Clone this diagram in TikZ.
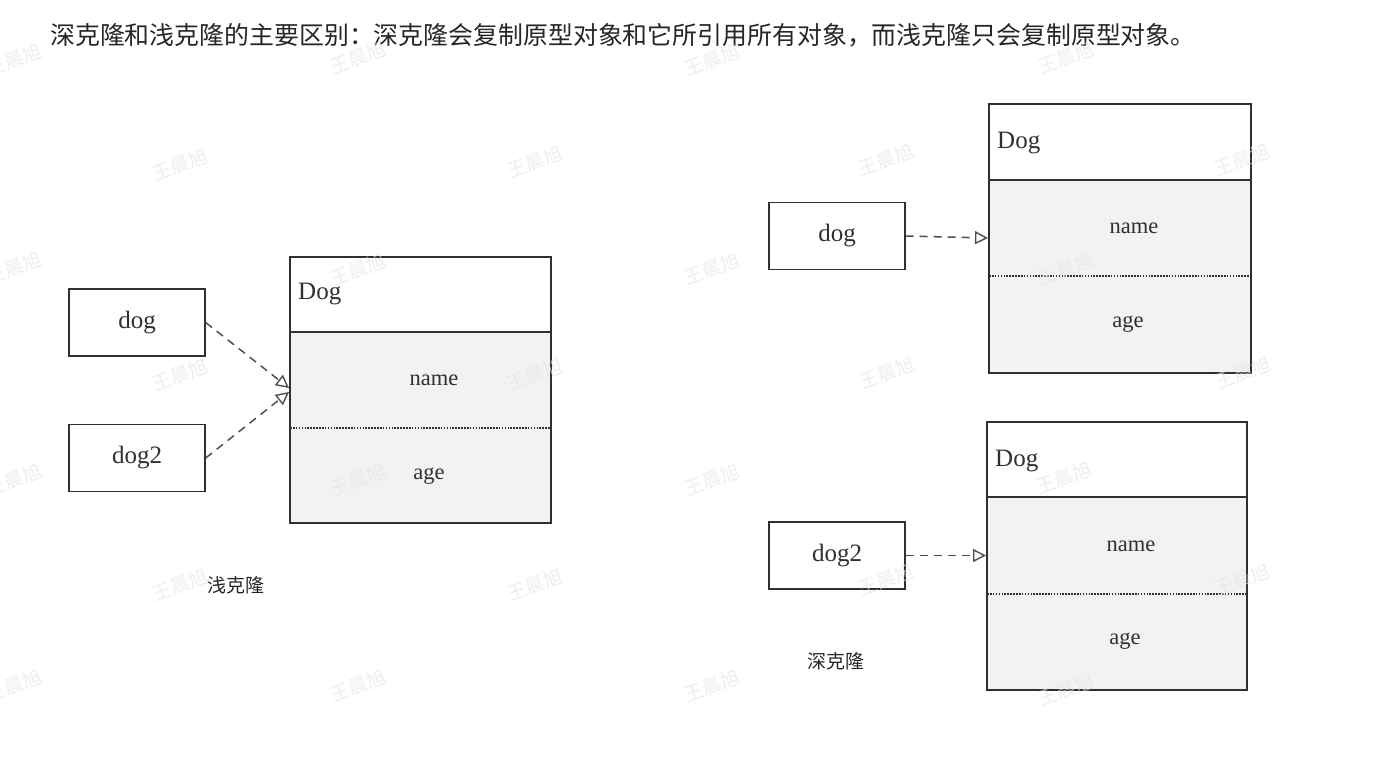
\documentclass[tikz,border=0pt]{standalone}
\usepackage{fontspec}
\setmainfont{Liberation Serif}
\newfontfamily\cjk{Noto Sans CJK SC}
\usetikzlibrary{arrows.meta}
\definecolor{ink}{HTML}{303030}
\definecolor{boxgray}{HTML}{F2F2F2}
\definecolor{wm}{HTML}{E4E4E4}
\tikzset{
  objbox/.style={draw=ink, line width=1.4pt, minimum width=136pt, minimum height=67pt, inner sep=0pt, font=\fontsize{25}{25}\selectfont, text=ink},
  outline/.style={draw=ink, line width=2pt},
  headsep/.style={draw=ink, line width=2.6pt, dash pattern=on 1.2pt off 0.8pt},
  headsolid/.style={draw=ink, line width=1.4pt},
  fieldsep/.style={draw=ink, line width=1.7pt, dash pattern=on 1.6pt off 1.3pt},
  fieldtxt/.style={font=\fontsize{22.5}{22.5}\selectfont, text=ink, inner sep=0pt},
  classtxt/.style={font=\fontsize{25}{25}\selectfont, text=ink, inner sep=0pt, anchor=west},
  ref/.style={draw=ink!85, line width=1.5pt, dash pattern=on 8pt off 6pt, -{Triangle[open, length=13pt, width=13pt, line width=1.4pt]}},
  captxt/.style={font=\cjk\fontsize{19}{19}\selectfont, text=black!85, inner sep=0pt},
  wmark/.style={font=\cjk\fontsize{19}{19}\selectfont, text=wm, rotate=20, inner sep=0pt}
}
\begin{document}
\begin{tikzpicture}[x=1pt,y=-1pt]
\useasboundingbox (0,0) rectangle (1387,763);
\fill[white] (0,0) rectangle (1387,763);

% title
\node[anchor=west, inner sep=0pt, font=\cjk\fontsize{24.9}{26}\selectfont, text=black!85] (title) at (50,35) {深克隆和浅克隆的主要区别：深克隆会复制原型对象和它所引用所有对象，而浅克隆只会复制原型对象。};

% ---------- shallow clone ----------
\fill[boxgray] (290,332) rectangle (551,523);
\draw[outline] (290,257) rectangle (551,523);
\draw[headsolid] (290,332) -- (551,332);
\draw[headsep] (290,332) -- (551,332);
\draw[fieldsep] (290,428) -- (551,428);
\draw[headsep] (290,523) -- (551,523);
\node[classtxt] (c1) at (298,294) {Dog};
\node[fieldtxt] (c1name) at (434,380) {name};
\node[fieldtxt] (c1age) at (429,476) {age};
\coordinate (t1a) at (289,388);
\coordinate (t1b) at (289,392);

\node[objbox] (dogA) at (137,322.5) {dog};
\node[objbox] (dog2A) at (137,458) {dog2};
\draw[ref] (dogA.east) -- (t1a);
\draw[ref] (dog2A.east) -- (t1b);
\node[captxt] (shallow) at (236,585) {浅克隆};

% ---------- deep clone, top ----------
\fill[boxgray] (989,180) rectangle (1251,373);
\draw[outline] (989,104) rectangle (1251,373);
\draw[headsolid] (989,180) -- (1251,180);
\draw[headsep] (989,180) -- (1251,180);
\draw[fieldsep] (989,276) -- (1251,276);
\draw[headsep] (989,373) -- (1251,373);
\node[classtxt] (c2) at (997,143) {Dog};
\node[fieldtxt] (c2name) at (1134,228) {name};
\node[fieldtxt] (c2age) at (1128,324) {age};
\coordinate (t2) at (988,238);

\node[objbox] (dogB) at (837,236) {dog};
\draw[ref] (dogB.east) -- (t2);

% ---------- deep clone, bottom ----------
\fill[boxgray] (987,497) rectangle (1247,690);
\draw[outline] (987,422) rectangle (1247,690);
\draw[headsolid] (987,497) -- (1247,497);
\draw[headsep] (987,497) -- (1247,497);
\draw[fieldsep] (987,594) -- (1247,594);
\draw[headsep] (987,690) -- (1247,690);
\node[classtxt] (c3) at (995,461) {Dog};
\node[fieldtxt] (c3name) at (1131,546) {name};
\node[fieldtxt] (c3age) at (1125,641) {age};
\coordinate (t3) at (986,555.5);

\node[objbox] (dog2B) at (837,555.5) {dog2};
\draw[ref] (dog2B.east) -- (t3);
\node[captxt] (deep) at (836,661) {深克隆};

% ---------- watermarks ----------
\begin{scope}[opacity=0.6]
\foreach \x/\y in {14/60,358/58,712/60,1066/58,
                   180/165,535/162,886/160,1242/160,
                   14/268,358/270,712/269,1066/269,
                   180/375,535/375,887/373,1243/373,
                   14/480,358/480,712/480,1064/478,
                   180/585,535/585,886/580,1242/580,
                   14/686,358/686,712/686,1066/690}
  \node[wmark] at (\x,\y) {王晨旭};
\end{scope}
\end{tikzpicture}
\end{document}
